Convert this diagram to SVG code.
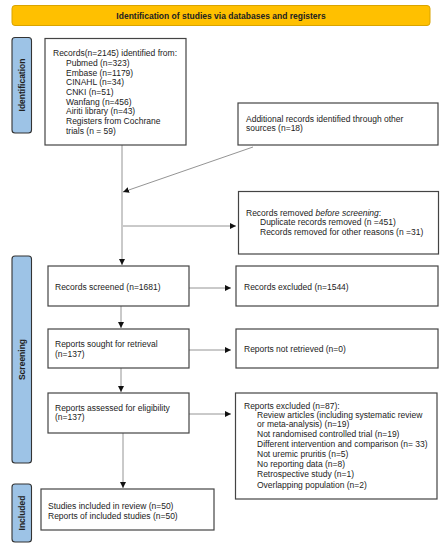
<svg xmlns="http://www.w3.org/2000/svg" width="447" height="550" viewBox="0 0 447 550">
<defs>
<style>
text{font-family:"Liberation Sans",Arial,sans-serif;font-size:8.5px;fill:#222}
.b{font-weight:bold}
.box{fill:#fff;stroke:#444;stroke-width:1.2}
.side{fill:#9DC3E6;stroke:#333;stroke-width:1.1}
.ln{stroke:#888;stroke-width:0.9;fill:none}
</style>
<marker id="ah" viewBox="0 0 10 10" refX="10" refY="5" markerWidth="6" markerHeight="6" markerUnits="userSpaceOnUse" orient="auto"><path d="M0,0L10,5L0,10z" fill="#111"/></marker>
</defs>
<g id="header"><rect x="12" y="5.5" width="418" height="20" rx="3" fill="#FFC000" stroke="#D9A400" stroke-width="1"/><text class="b" x="221" y="18.6" text-anchor="middle">Identification of studies via databases and registers</text></g>
<g id="lab-identification"><rect class="side" x="12" y="37.5" width="19.5" height="95.5" rx="3"/><text class="b" transform="translate(24.8,85) rotate(-90)" text-anchor="middle">Identification</text></g>
<g id="lab-screening"><rect class="side" x="12" y="256" width="19.5" height="207" rx="3"/><text class="b" transform="translate(24.8,359.5) rotate(-90)" text-anchor="middle">Screening</text></g>
<g id="lab-included"><rect class="side" x="12" y="484" width="19.5" height="58" rx="3"/><text class="b" transform="translate(24.8,513) rotate(-90)" text-anchor="middle">Included</text></g>
<g id="connectors">
<line class="ln" x1="122" y1="145" x2="122" y2="265" marker-end="url(#ah)"/>
<line class="ln" x1="253" y1="147" x2="123" y2="192" marker-end="url(#ah)"/>
<line class="ln" x1="123" y1="226" x2="236" y2="226" marker-end="url(#ah)"/>
<line class="ln" x1="189" y1="288" x2="231" y2="288" marker-end="url(#ah)"/>
<line class="ln" x1="121" y1="306" x2="121" y2="328" marker-end="url(#ah)"/>
<line class="ln" x1="189" y1="350" x2="231" y2="350" marker-end="url(#ah)"/>
<line class="ln" x1="121" y1="368" x2="121" y2="392" marker-end="url(#ah)"/>
<line class="ln" x1="189" y1="414" x2="231" y2="414" marker-end="url(#ah)"/>
<line class="ln" x1="123" y1="433" x2="123" y2="488" marker-end="url(#ah)"/>
</g>
<g id="records"><rect class="box" x="45" y="38.5" width="141" height="106.5"/>
<text x="53" y="56.3">Records(n=2145) identified from:</text>
<text x="66" y="65.9">Pubmed (n=323)</text>
<text x="66" y="75.5">Embase (n=1179)</text>
<text x="66" y="85.2">CINAHL (n=34)</text>
<text x="66" y="94.8">CNKI (n=51)</text>
<text x="66" y="104.5">Wanfang (n=456)</text>
<text x="66" y="114.1">Airiti library (n=43)</text>
<text x="66" y="123.8">Registers from Cochrane</text>
<text x="66" y="133.5">trials (n = 59)</text></g>
<g id="additional"><rect class="box" x="238" y="103" width="200" height="42"/>
<text x="246" y="122.3">Additional records identified through other</text>
<text x="246" y="131.3">sources (n=18)</text></g>
<g id="removed"><rect class="box" x="238.5" y="191.5" width="200" height="62.5"/>
<text x="246" y="215.6">Records removed <tspan font-style="italic">before screening</tspan>:</text>
<text x="260" y="225.1">Duplicate records removed (n =451)</text>
<text x="260" y="235.1">Records removed for other reasons (n =31)</text></g>
<g id="screened"><rect class="box" x="48" y="266" width="141" height="40"/><text x="55" y="289.6">Records screened (n=1681)</text></g>
<g id="excluded"><rect class="box" x="236" y="266" width="202" height="40"/><text x="244" y="289.6">Records excluded (n=1544)</text></g>
<g id="sought"><rect class="box" x="48" y="329" width="141" height="39"/><text x="55" y="346.9">Reports sought for retrieval</text><text x="55" y="356.9">(n=137)</text></g>
<g id="notretrieved"><rect class="box" x="236" y="329" width="202" height="39"/><text x="244" y="351.9">Reports not retrieved (n=0)</text></g>
<g id="assessed"><rect class="box" x="48" y="393" width="141" height="40"/><text x="55" y="411.2">Reports assessed for eligibility</text><text x="55" y="420.2">(n=137)</text></g>
<g id="repexcluded"><rect class="box" x="235.5" y="393" width="201.5" height="106"/>
<text x="244" y="408.9">Reports excluded (n=87):</text>
<text x="257" y="417.9">Review articles (including systematic review</text>
<text x="257" y="427.3">or meta-analysis) (n=19)</text>
<text x="257" y="437.3">Not randomised controlled trial (n=19)</text>
<text x="257" y="447.3">Different intervention and comparison (n= 33)</text>
<text x="257" y="457.3">Not uremic pruritis (n=5)</text>
<text x="257" y="467.3">No reporting data (n=8)</text>
<text x="257" y="477.3">Retrospective study (n=1)</text>
<text x="257" y="487.6">Overlapping population (n=2)</text></g>
<g id="included"><rect class="box" x="41" y="489" width="173" height="41"/><text x="48" y="508.9">Studies included in review (n=50)</text><text x="48" y="518.9">Reports of included studies (n=50)</text></g>
</svg>
